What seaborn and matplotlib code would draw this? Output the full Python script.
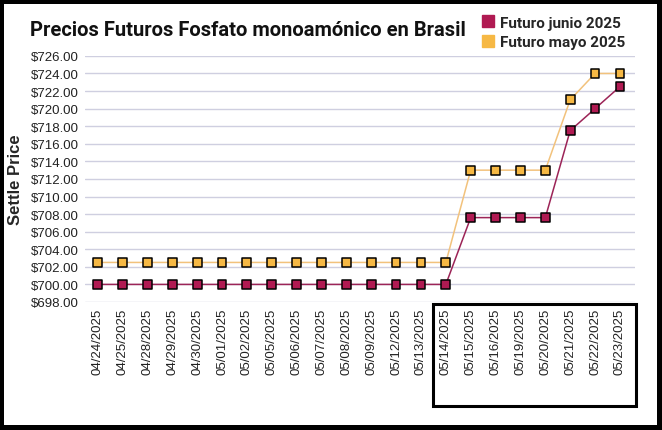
import matplotlib
matplotlib.use("Agg")
import matplotlib.pyplot as plt
from matplotlib.lines import Line2D
from matplotlib.patches import Rectangle
from matplotlib.ticker import FuncFormatter
import seaborn as sns
import pandas as pd

fechas = ["04/24/2025", "04/25/2025", "04/28/2025", "04/29/2025", "04/30/2025",
          "05/01/2025", "05/02/2025", "05/05/2025", "05/06/2025", "05/07/2025",
          "05/08/2025", "05/09/2025", "05/12/2025", "05/13/2025", "05/14/2025",
          "05/15/2025", "05/16/2025", "05/19/2025", "05/20/2025", "05/21/2025",
          "05/22/2025", "05/23/2025"]
futuro_junio = [700.0] * 15 + [707.6, 707.6, 707.6, 707.6, 717.5, 720.0, 722.5]
futuro_mayo = [702.5] * 15 + [713.0, 713.0, 713.0, 713.0, 721.0, 724.0, 724.0]
series = ["Futuro junio 2025", "Futuro mayo 2025"]

df = pd.DataFrame({
    "idx": list(range(len(fechas))) * 2,
    "precio": futuro_junio + futuro_mayo,
    "serie": [series[0]] * len(fechas) + [series[1]] * len(fechas),
})

line_cols = {series[0]: "#9c2457", series[1]: "#f2c27c"}
face_cols = {series[0]: "#b01a52", series[1]: "#f6b844"}

sns.set_style("white")
plt.rcParams["font.family"] = ["Liberation Sans", "DejaVu Sans"]

fig = plt.figure(figsize=(6.62, 4.31), dpi=100)
fig.patch.set_facecolor("black")
fig.patches.append(Rectangle((4 / 662, 5 / 431), 653 / 662, 421 / 431,
                             transform=fig.transFigure, facecolor="white",
                             edgecolor="none", zorder=-10))

ax = fig.add_axes([0.128, 0.297, 0.831, 0.571])
ax.set_facecolor("white")

sns.lineplot(data=df, x="idx", y="precio", hue="serie", palette=line_cols,
             linewidth=1.1, legend=False, ax=ax, zorder=2)
sns.scatterplot(data=df, x="idx", y="precio", hue="serie", palette=face_cols,
                marker="s", s=40, edgecolor="black", linewidth=1.1,
                legend=False, ax=ax, zorder=3)

ax.set_xlim(-0.52, 21.6)
ax.set_ylim(698, 726)
ax.set_yticks(range(698, 727, 2))
ax.yaxis.set_major_formatter(FuncFormatter(lambda v, p: f"${v:,.2f}"))
ax.set_xticks(range(len(fechas)))
ax.set_xticklabels(fechas, rotation=90)
ax.tick_params(axis="both", labelsize=9.5, labelcolor="#222222", length=0, pad=4)
ax.grid(axis="y", color="#cfcfe0", linewidth=1)
for s in ax.spines.values():
    s.set_visible(False)
ax.set_xlabel("")
ax.set_ylabel("Settle Price", fontsize=12, fontweight="bold", labelpad=6)

# highlight box around the last dates
ax.add_patch(Rectangle((13.47, -0.423), 8.17, 0.415, transform=ax.get_xaxis_transform(),
                       fill=False, edgecolor="black", linewidth=2.2, clip_on=False))

fig.text(30 / 662, 1 - 36 / 431, "Precios Futuros Fosfato monoamónico en Brasil",
         fontsize=14.5, fontweight="bold", color="#111111", family=["Roboto", "DejaVu Sans"])

handles = [Line2D([], [], marker="s", linestyle="none", markersize=9,
                  markerfacecolor=face_cols[s], markeredgecolor=face_cols[s]) for s in series]
fig.legend(handles, series, loc="upper left", bbox_to_anchor=(465 / 662, 1 - 3 / 431),
           frameon=False, handletextpad=0.2, labelspacing=0.35, handlelength=1.2,
           prop={"size": 11, "weight": "bold", "family": ["Roboto", "DejaVu Sans"]})

fig.savefig("out.png", dpi=100, facecolor=fig.get_facecolor())
